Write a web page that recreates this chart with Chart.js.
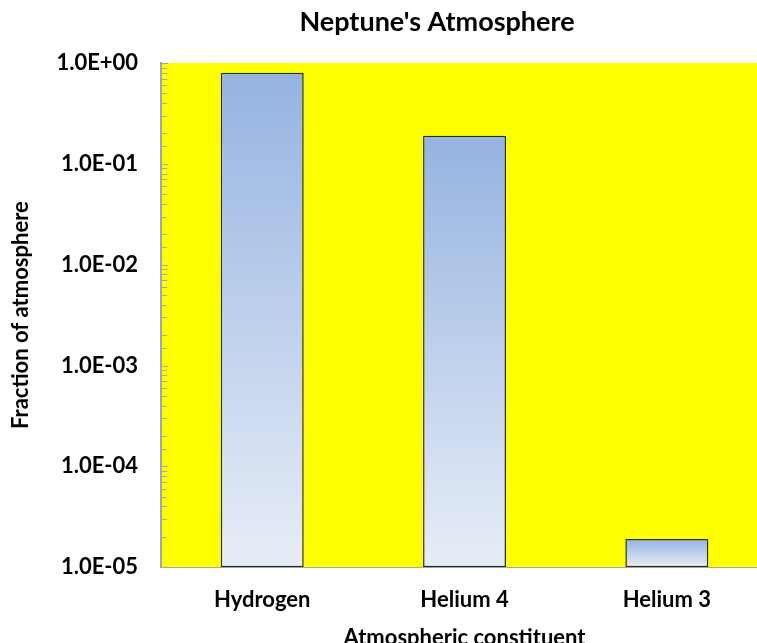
<!DOCTYPE html>
<html>
<head>
<meta charset="utf-8">
<script src="https://cdn.jsdelivr.net/npm/chart.js@4"></script>
<style>
  html, body { margin: 0; padding: 0; background: #fff; overflow: hidden; }
  #wrap { width: 768px; height: 651px; position: relative; }
</style>
</head>
<body>
<div id="wrap"><canvas id="canvasOne"></canvas></div>
<script>
// the data
const constituents = ["Hydrogen", "Helium 4", "Helium 3"];
const fractions = [0.8, 0.19, 1.9e-5];
const axisMin = 1e-5;
const axisMax = 1;

const titleText = "Neptune's Atmosphere";
const FONT = "Lato, 'Open Sans', sans-serif";

// labels like 1.0E-03
function sciLabel(v) {
  const e = Math.round(Math.log10(v));
  if (Math.abs(Math.log10(v) - e) > 1e-9) return "";
  return "1.0E" + (e < 0 ? "-" : "+") + String(Math.abs(e)).padStart(2, "0");
}

// yellow plot area, minor ticks on the inside and the title
const decor = {
  id: "decor",
  beforeDraw(chart) {
    const { ctx, chartArea: a } = chart;
    ctx.save();
    ctx.fillStyle = "#FFFF00";
    ctx.fillRect(a.left, a.top, a.right - a.left, a.bottom - a.top);
    ctx.restore();
  },
  afterDraw(chart) {
    const { ctx, chartArea: a } = chart;
    const y = chart.scales.y;
    ctx.save();
    ctx.strokeStyle = "#A6A6A6";
    ctx.lineWidth = 1;
    y.ticks.forEach(t => {
      const py = Math.round(y.getPixelForValue(t.value)) + 0.5;
      const len = sciLabel(t.value) ? 7 : 6;
      ctx.beginPath();
      ctx.moveTo(a.left, py);
      ctx.lineTo(a.left + len, py);
      ctx.stroke();
    });
    ctx.fillStyle = "#000";
    ctx.font = "bold 27px " + FONT;
    ctx.textAlign = "center";
    ctx.textBaseline = "middle";
    ctx.fillText(titleText, 437, 22);
    ctx.restore();
  }
};

// each bar fades from blue at its top to pale at the bottom
function barGradient(context) {
  const chart = context.chart;
  if (!chart.chartArea) return "#B0C4E8";
  const y = chart.scales.y;
  const top = y.getPixelForValue(context.raw);
  const bottom = chart.chartArea.bottom;
  const g = chart.ctx.createLinearGradient(0, top, 0, bottom);
  g.addColorStop(0, "#95B3E1");
  g.addColorStop(1, "#E8EDF7");
  return g;
}

const canvas = document.getElementById("canvasOne");

new Chart(canvas, {
  type: "bar",
  data: {
    labels: constituents,
    datasets: [
      {
        label: "Fraction",
        data: fractions,
        backgroundColor: barGradient,
        borderColor: "#1F2A3C",
        borderWidth: 1.5,
        borderSkipped: false,
        categoryPercentage: 1,
        barPercentage: 0.41,
      },
    ],
  },
  options: {
    responsive: true,
    maintainAspectRatio: false,
    animation: false,
    layout: { padding: { top: 63, left: 8, right: 0, bottom: 0 } },
    plugins: {
      legend: { display: false },
      tooltip: { enabled: false },
    },
    scales: {
      x: {
        grid: { display: false, drawTicks: false },
        border: { display: true, color: "#A6A6A6", width: 1 },
        ticks: {
          color: "#000",
          padding: 20,
          font: { family: FONT, size: 22, weight: "bold" },
        },
        title: {
          display: true,
          text: "Atmospheric constituent",
          color: "#000",
          padding: { top: -9, bottom: 0 },
          font: { family: FONT, size: 22, weight: "bold" },
        },
      },
      y: {
        type: "logarithmic",
        min: axisMin,
        max: axisMax,
        grid: { display: false, drawTicks: false },
        border: { display: true, color: "#A6A6A6", width: 2 },
        ticks: {
          color: "#000",
          padding: 23,
          autoSkip: false,
          font: { family: FONT, size: 22, weight: "bold" },
          callback: (v) => sciLabel(v),
        },
        title: {
          display: true,
          text: "Fraction of atmosphere",
          color: "#000",
          padding: { top: 0, bottom: -1 },
          font: { family: FONT, size: 22, weight: "bold" },
        },
      },
    },
  },
  plugins: [decor],
});
</script>
</body>
</html>
